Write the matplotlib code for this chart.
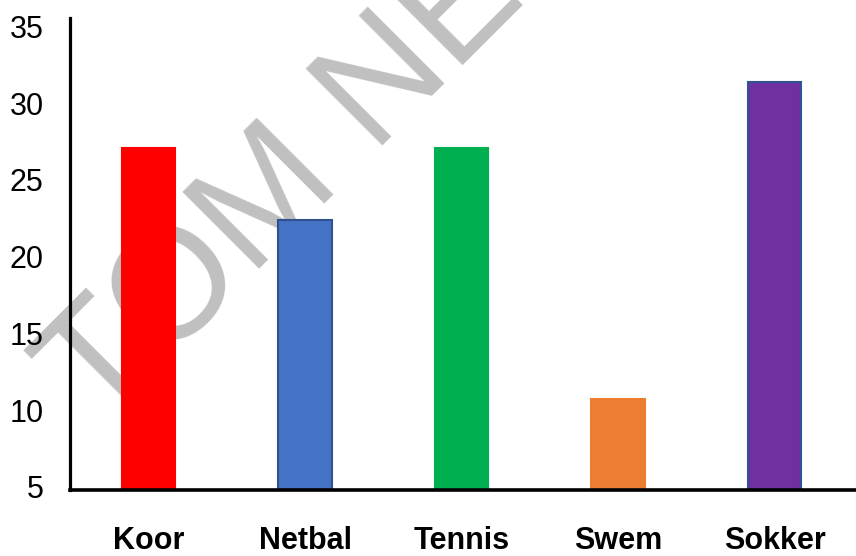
import matplotlib
matplotlib.use("Agg")
import matplotlib.pyplot as plt
import numpy as np

categories = ["Koor", "Netbal", "Tennis", "Swem", "Sokker"]
values = [27.1, 22.4, 27.1, 10.7, 31.4]
yticks = [5, 10, 15, 20, 25, 30, 35]
watermark = "TOM NE"

fill_colors = ["#ff0000", "#4472c4", "#00b050", "#ed7d31", "#7030a0"]
edge_colors = ["#ff0000", "#2f528f", "#00b050", "#ed7d31", "#2f5597"]

plt.rcParams['font.family'] = ['Liberation Sans', 'DejaVu Sans']

fig = plt.figure(figsize=(8.56, 5.56), dpi=100)
fig.patch.set_facecolor("white")

# watermark behind everything
fig.text(99/856, 1 - 430/556, watermark, fontsize=113, color="#c0c0c0",
         rotation=45, rotation_mode="anchor", ha="left", va="baseline",
         zorder=-1)

ax = fig.add_axes([70/856, 66/556, (856-70)/856, (490-18)/556])
ax.patch.set_alpha(0)

YMIN, YMAX = 4.8, 35.55
x = np.arange(len(categories))
vals = np.array(values)
ax.bar(x, vals - YMIN, bottom=YMIN, width=0.34, color=fill_colors,
       edgecolor=edge_colors, linewidth=1.5, zorder=2)

ax.set_ylim(YMIN, YMAX)
ax.set_xlim(-0.502, 4.52)
ax.set_yticks(yticks)
ax.set_yticklabels([str(t) for t in yticks], fontsize=22)
ax.set_xticks(x)
ax.set_xticklabels(categories, fontsize=22, fontweight="bold")
ax.tick_params(axis="both", length=0)
ax.tick_params(axis="x", pad=26)
ax.tick_params(axis="y", pad=19)

for s in ["top", "right"]:
    ax.spines[s].set_visible(False)
ax.spines["left"].set_linewidth(2.3)
ax.spines["bottom"].set_linewidth(2.6)

fig.savefig("out.png", dpi=100, facecolor="white")
